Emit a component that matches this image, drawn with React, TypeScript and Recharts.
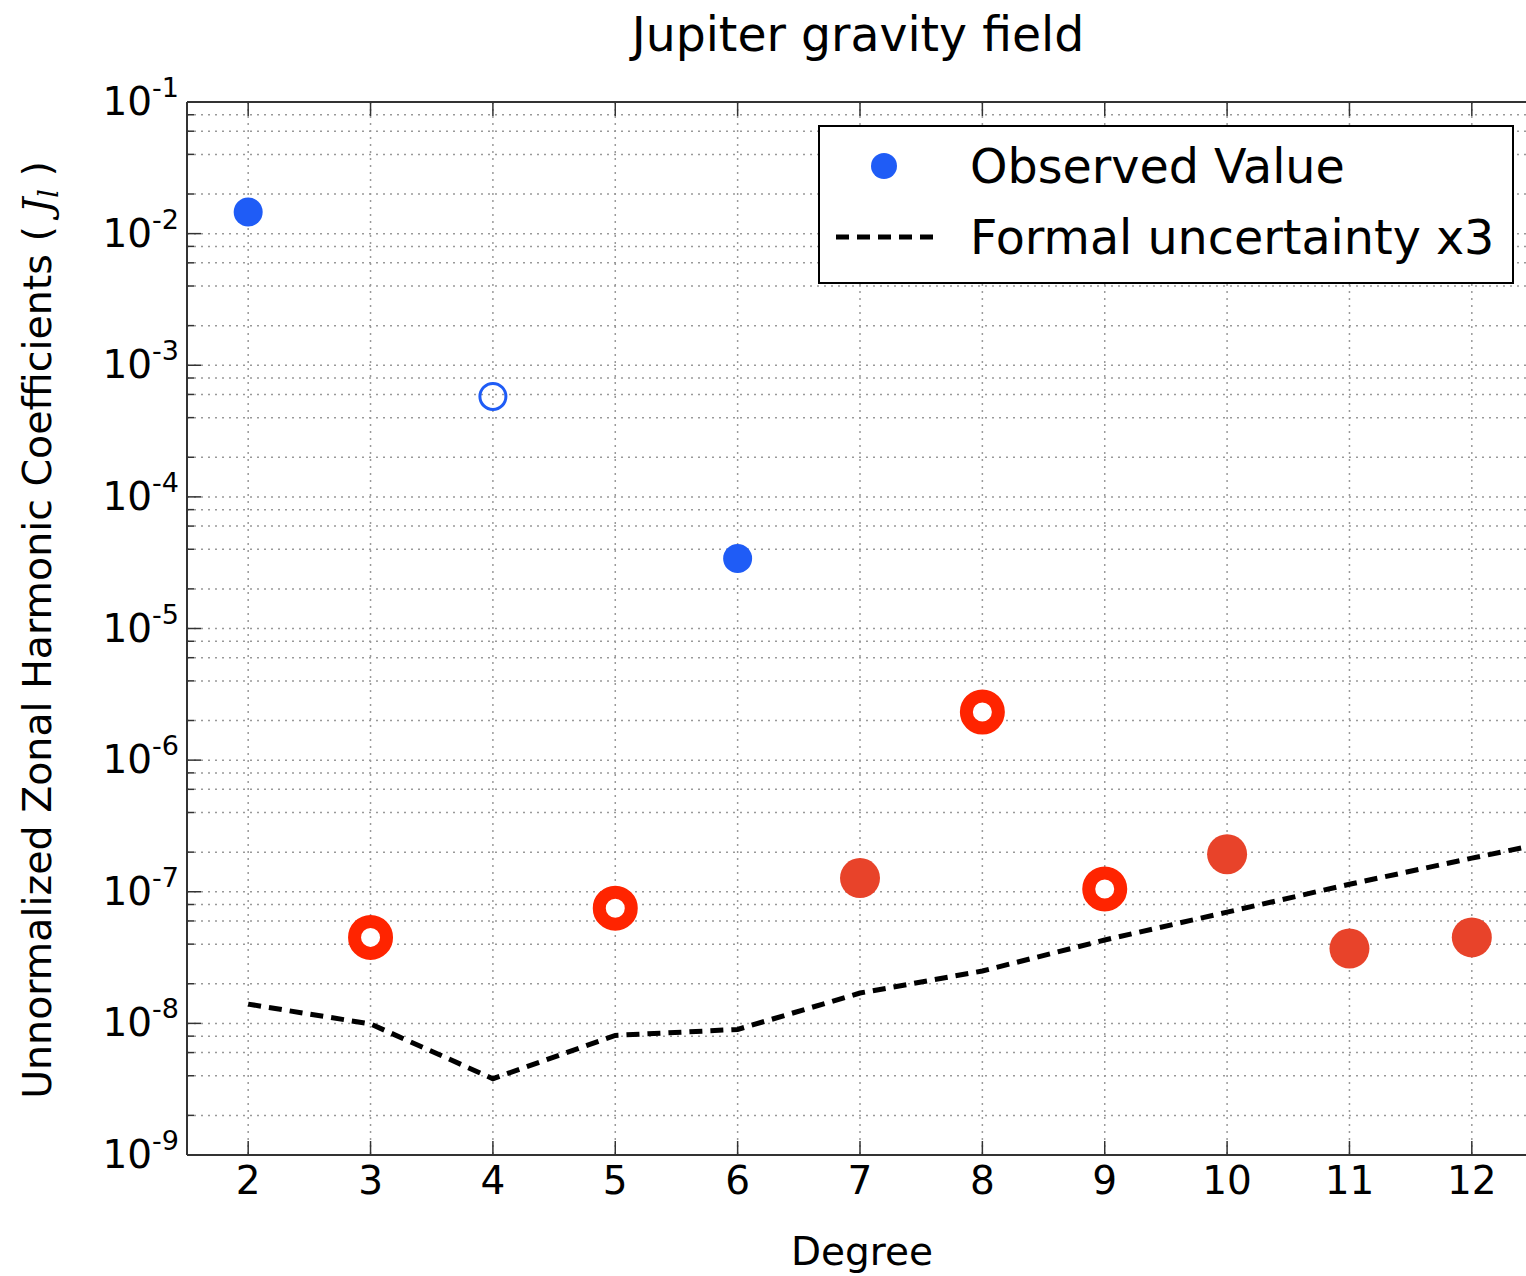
import { ComposedChart, Line, Scatter, XAxis, YAxis, CartesianGrid } from "recharts"

// zonal harmonic degree l
const degrees = [2, 3, 4, 5, 6, 7, 8, 9, 10, 11, 12]
// |J_l|
const observedMagnitude = [1.46e-2, 4.5e-8, 5.8e-4, 7.5e-8, 3.4e-5, 1.27e-7, 2.32e-6, 1.05e-7, 1.93e-7, 3.7e-8, 4.5e-8]
// sign of J_l (negative values are drawn as open markers)
const observedSign = [1, -1, -1, -1, 1, 1, -1, -1, 1, 1, 1]
// degrees drawn in red
const redDegrees = [3, 5, 7, 8, 9, 10, 11, 12]

const uncertaintyDegrees = [2, 3, 4, 5, 6, 7, 8, 9, 10, 11, 12, 13]
const uncertaintyValues = [1.4e-8, 9.9e-9, 3.8e-9, 8.1e-9, 9.0e-9, 1.7e-8, 2.5e-8, 4.3e-8, 7.0e-8, 1.14e-7, 1.8e-7, 2.8e-7]

const xTicks = [2, 3, 4, 5, 6, 7, 8, 9, 10, 11, 12]
const decadeExponents = [-9, -8, -7, -6, -5, -4, -3, -2, -1]
const minorMultipliers = [2, 4, 6, 8]

const yTicks: number[] = []
decadeExponents.forEach((e, i) => {
  yTicks.push(Math.pow(10, e))
  if (i < decadeExponents.length - 1) minorMultipliers.forEach((m) => yTicks.push(m * Math.pow(10, e)))
})

const points = degrees.map((d, i) => ({ x: d, y: observedMagnitude[i], sign: observedSign[i] }))
const bluePoints = points.filter((p) => !redDegrees.includes(p.x))
const redPoints = points.filter((p) => redDegrees.includes(p.x))
const uncertaintyData = uncertaintyDegrees.map((d, i) => ({ x: d, y: uncertaintyValues[i] }))

const BLUE = "#1f5cf6"
const RED_FILL = "#e8432a"
const RED_RING = "#ff2400"
const FRAME = "#333"
const FONT = "'DejaVu Sans', sans-serif"

function YTick(props: any) {
  const { x, y, payload } = props
  const lg = Math.log10(payload.value)
  const exp = Math.round(lg)
  const major = Math.abs(lg - exp) < 1e-6
  return (
    <g>
      <line x1={x} x2={x + (major ? 14 : 7)} y1={y} y2={y} stroke={FRAME} strokeWidth={1.5} />
      {major && (
        <text x={x - 8} y={y + 13} textAnchor="end" fontSize={39} fontFamily={FONT} fill="#000">
          10
          <tspan dy={-18} fontSize={27}>
            {String(exp)}
          </tspan>
        </text>
      )}
    </g>
  )
}

function XTickBottom(props: any) {
  const { x, y, payload } = props
  return (
    <g>
      <line x1={x} x2={x} y1={y} y2={y - 14} stroke={FRAME} strokeWidth={1.5} />
      <text x={x} y={y + 39} textAnchor="middle" fontSize={39} fontFamily={FONT} fill="#000">
        {payload.value}
      </text>
    </g>
  )
}

function XTickTop(props: any) {
  const { x, y } = props
  return <line x1={x} x2={x} y1={y} y2={y + 14} stroke={FRAME} strokeWidth={1.5} />
}

function BlueDot(props: any) {
  const { cx, cy, payload } = props
  if (payload.sign > 0) return <circle cx={cx} cy={cy} r={14.5} fill={BLUE} />
  return <circle cx={cx} cy={cy} r={13} fill="none" stroke={BLUE} strokeWidth={3} />
}

function RedDot(props: any) {
  const { cx, cy, payload } = props
  if (payload.sign > 0) return <circle cx={cx} cy={cy} r={20} fill={RED_FILL} />
  return <circle cx={cx} cy={cy} r={16} fill="#fff" stroke={RED_RING} strokeWidth={13} />
}

export default function App() {
  return (
    <div style={{ width: 1526, height: 1276, overflow: "hidden", position: "relative", background: "#fff" }}>
      <style>{"html,body{margin:0;padding:0;overflow:hidden;}"}</style>
      <ComposedChart width={1545} height={1276} margin={{ top: 82, right: 12, left: 97, bottom: 61 }}>
        <CartesianGrid stroke="#999" strokeWidth={1.5} strokeDasharray="2 5" />
        <XAxis
          dataKey="x"
          type="number"
          domain={[1.5, 12.5]}
          allowDataOverflow
          ticks={xTicks}
          interval={0}
          height={60}
          tickSize={0}
          tickMargin={0}
          tick={<XTickBottom />}
          axisLine={{ stroke: FRAME, strokeWidth: 2 }}
          tickLine={false}
        />
        <XAxis
          xAxisId="top"
          orientation="top"
          dataKey="x"
          type="number"
          domain={[1.5, 12.5]}
          allowDataOverflow
          ticks={xTicks}
          interval={0}
          height={20}
          tickSize={0}
          tickMargin={0}
          tick={<XTickTop />}
          axisLine={{ stroke: FRAME, strokeWidth: 2 }}
          tickLine={false}
        />
        <YAxis
          type="number"
          scale="log"
          domain={[1e-9, 1e-1]}
          allowDataOverflow
          ticks={yTicks}
          interval={0}
          width={90}
          tickSize={0}
          tickMargin={0}
          tick={<YTick />}
          axisLine={{ stroke: FRAME, strokeWidth: 2 }}
          tickLine={false}
        />
        <Line
          data={uncertaintyData}
          dataKey="y"
          type="linear"
          stroke="#000"
          strokeWidth={5}
          strokeDasharray="13 8"
          dot={false}
          activeDot={false}
          isAnimationActive={false}
        />
        <Scatter data={bluePoints} dataKey="y" shape={<BlueDot />} isAnimationActive={false} />
        <Scatter data={redPoints} dataKey="y" shape={<RedDot />} isAnimationActive={false} />
      </ComposedChart>

      <svg width={1526} height={1276} style={{ position: "absolute", left: 0, top: 0, pointerEvents: "none" }}>
        <text x={858} y={51} textAnchor="middle" fontSize={47.3} fontFamily={FONT} fill="#000">
          Jupiter gravity field
        </text>
        <text x={862} y={1265} textAnchor="middle" fontSize={39} fontFamily={FONT} fill="#000">
          Degree
        </text>
        <text
          transform="translate(51 630) rotate(-90)"
          textAnchor="middle"
          fontSize={39.5}
          fontFamily={FONT}
          fill="#000"
        >
          {"Unnormalized Zonal Harmonic Coefficients (\u00a0"}
          <tspan fontFamily="'DejaVu Serif', serif" fontStyle="italic">
            J
          </tspan>
          <tspan fontFamily="'DejaVu Serif', serif" fontStyle="italic" fontSize={27} dy={7}>
            l
          </tspan>
          <tspan dy={-7}>{"\u00a0)"}</tspan>
        </text>

        <rect x={819} y={126} width={694} height={157} fill="#fff" stroke="#000" strokeWidth={2} />
        <circle cx={884} cy={166} r={13} fill={BLUE} />
        <line x1={836} x2={933} y1={237} y2={237} stroke="#000" strokeWidth={5} strokeDasharray="13 8" />
        <text x={970} y={183} fontSize={47.6} fontFamily={FONT} fill="#000">
          Observed Value
        </text>
        <text x={970} y={254} fontSize={47.6} fontFamily={FONT} fill="#000">
          Formal uncertainty x3
        </text>
      </svg>
    </div>
  )
}
